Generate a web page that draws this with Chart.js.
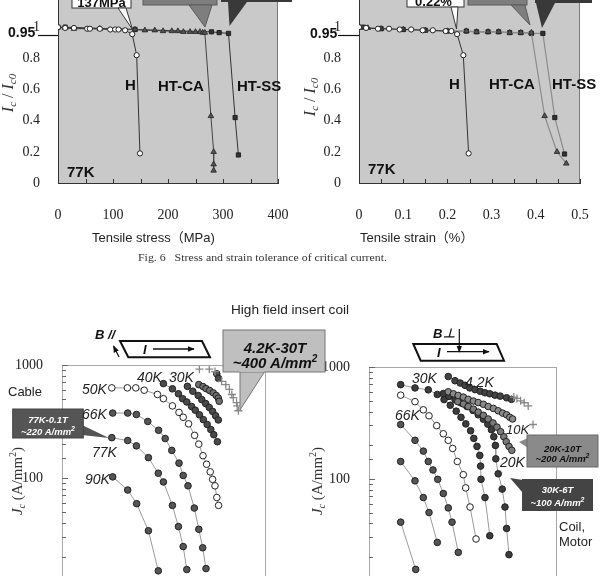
<!DOCTYPE html>
<html>
<head>
<meta charset="utf-8">
<script src="https://cdn.jsdelivr.net/npm/chart.js@4.4.1/dist/chart.umd.min.js"></script>
<style>
  html, body { margin: 0; padding: 0; background: #fff; }
  #page { position: relative; width: 600px; height: 576px; overflow: hidden; background: #fff; }
  canvas { position: absolute; }
  #stress { left: 0; top: -9px; }
  #strain { left: 300px; top: -9px; }
  #cable { left: 0; top: 340px; }
  #coil { left: 300px; top: 340px; }
  svg { position: absolute; left: 0; top: 0; }
  .sans { font-family: "Liberation Sans", Arial, "Noto Sans CJK JP", sans-serif; }
  .serif { font-family: "Liberation Serif", "Times New Roman", serif; }
</style>
</head>
<body>
<div id="page">
  <canvas id="stress" width="300" height="232"></canvas>
  <canvas id="strain" width="300" height="232"></canvas>
  <canvas id="cable" width="300" height="256"></canvas>
  <canvas id="coil" width="300" height="256"></canvas>

  <svg width="600" height="576" xmlns="http://www.w3.org/2000/svg">
    <defs>
      <marker id="ah" viewBox="0 0 10 10" refX="9" refY="5" markerUnits="userSpaceOnUse"
              markerWidth="7" markerHeight="7" orient="auto">
        <path d="M0,1 L10,5 L0,9 z" fill="#111"/>
      </marker>
    </defs>

    <!-- callouts above the stress / strain plots (cut off by the page top) -->
    <rect x="72" y="-20" width="59" height="28" fill="#fff" stroke="#333"/>
    <polygon points="118,8 132.5,29.5 126,8" fill="#fff" stroke="#333"/>
    <text class="sans" x="101.5" y="6.5" font-size="13" font-weight="bold" text-anchor="middle" fill="#111">137MPa</text>
    <rect x="143" y="-20" width="74" height="25" fill="#7e7e7e" stroke="#5a5a5a"/>
    <polygon points="189,5 212,5 205,27" fill="#7e7e7e" stroke="#5a5a5a"/>
    <rect x="221" y="-20" width="71" height="22" fill="#393939"/>
    <polygon points="228,2 247,2 229.5,26" fill="#393939"/>

    <rect x="407" y="-20" width="57" height="27" fill="#fff" stroke="#333"/>
    <polygon points="451,7 456.5,29 458,7" fill="#fff" stroke="#333"/>
    <text class="sans" x="433.5" y="5.5" font-size="13" font-weight="bold" text-anchor="middle" fill="#111">0.22%</text>
    <rect x="468" y="-20" width="59" height="25" fill="#7e7e7e" stroke="#5a5a5a"/>
    <polygon points="511,5 525,5 530,25" fill="#7e7e7e" stroke="#5a5a5a"/>
    <rect x="535" y="-20" width="57" height="23" fill="#393939"/>
    <polygon points="536,3 555,3 542,28" fill="#393939"/>

    <g class="sans" font-weight="bold" fill="#111">
      <text x="8" y="37" font-size="14">0.95</text>
      <text x="310" y="37.5" font-size="14">0.95</text>
      <text x="125" y="89.5" font-size="15">H</text>
      <text x="158" y="91" font-size="15">HT-CA</text>
      <text x="237" y="91" font-size="15">HT-SS</text>
      <text x="67" y="177" font-size="15">77K</text>
      <text x="449" y="88.5" font-size="15">H</text>
      <text x="489" y="88.5" font-size="15">HT-CA</text>
      <text x="552" y="88.5" font-size="15">HT-SS</text>
      <text x="368" y="173.5" font-size="15">77K</text>
    </g>

    <g class="serif" font-size="16" fill="#333" text-anchor="middle">
      <text transform="translate(13,93) rotate(-90)"><tspan font-style="italic">I</tspan><tspan font-size="11" font-style="italic" dy="3">c</tspan><tspan dy="-3"> / </tspan><tspan font-style="italic">I</tspan><tspan font-size="11" font-style="italic" dy="3">c0</tspan></text>
      <text transform="translate(315,97) rotate(-90)"><tspan font-style="italic">I</tspan><tspan font-size="11" font-style="italic" dy="3">c</tspan><tspan dy="-3"> / </tspan><tspan font-style="italic">I</tspan><tspan font-size="11" font-style="italic" dy="3">c0</tspan></text>
    </g>

    <g class="sans" font-size="13" fill="#222">
      <text x="92" y="242">Tensile stress（MPa)</text>
      <text x="360" y="242">Tensile strain（%）</text>
      <text x="231" y="313.5" textLength="118" lengthAdjust="spacingAndGlyphs">High field insert coil</text>
    </g>
    <text class="serif" x="138" y="261" font-size="11" fill="#333" textLength="249" lengthAdjust="spacingAndGlyphs" xml:space="preserve">Fig. 6   Stress and strain tolerance of critical current.</text>

    <!-- B parallel sketch -->
    <text class="sans" x="95" y="339" font-size="13" font-weight="bold" font-style="italic" fill="#111">B //</text>
    <line x1="119" y1="357" x2="113.5" y2="346" stroke="#111" stroke-width="1.2" marker-end="url(#ah)"/>
    <polygon points="120,341 202,341 210,357.3 128.3,357.3" fill="#fff" stroke="#111" stroke-width="2"/>
    <text class="sans" x="143" y="354" font-size="13" font-weight="bold" font-style="italic" fill="#111">I</text>
    <line x1="153" y1="349" x2="194" y2="349" stroke="#111" stroke-width="1.3" marker-end="url(#ah)"/>

    <!-- B perpendicular sketch -->
    <text class="sans" x="433" y="338" font-size="13" font-weight="bold" font-style="italic" fill="#111">B⊥</text>
    <polygon points="413.3,344 496.7,344 504,360.7 420.7,360.7" fill="#fff" stroke="#111" stroke-width="2"/>
    <line x1="459.3" y1="329" x2="459.3" y2="352" stroke="#111" stroke-width="1.2" marker-end="url(#ah)"/>
    <text class="sans" x="437" y="357" font-size="13" font-weight="bold" font-style="italic" fill="#111">I</text>
    <line x1="447" y1="351.7" x2="489" y2="351.7" stroke="#111" stroke-width="1.3" marker-end="url(#ah)"/>

    <!-- callouts of the field plots -->
    <polygon points="240,371 265,371 240,410" fill="#bfbfbf" stroke="#777"/>
    <rect x="223" y="330" width="102" height="42" fill="#bfbfbf" stroke="#777"/>
    <rect x="239.5" y="369" width="25" height="3" fill="#bfbfbf"/>
    <g class="sans" font-size="15" font-weight="bold" font-style="italic" fill="#111" text-anchor="middle">
      <text x="275" y="353">4.2K-30T</text>
      <text x="275" y="368">~400 A/mm<tspan font-size="10" dy="-6">2</tspan></text>
    </g>

    <polygon points="82,425 82,435 109,438" fill="#555"/>
    <rect x="12.7" y="409" width="70.6" height="29" fill="#555" stroke="#444"/>
    <g class="sans" font-size="9.5" font-weight="bold" font-style="italic" fill="#fff" text-anchor="middle">
      <text x="48" y="422.5">77K-0.1T</text>
      <text x="48" y="435">~220 A/mm<tspan font-size="7" dy="-4">2</tspan></text>
    </g>

    <polygon points="528,438 528,448 519,442" fill="#8a8a8a"/>
    <rect x="527" y="435" width="71" height="32" fill="#8a8a8a" stroke="#6a6a6a"/>
    <g class="sans" font-size="9.5" font-weight="bold" font-style="italic" fill="#111" text-anchor="middle">
      <text x="562.5" y="451.5">20K-10T</text>
      <text x="562.5" y="462">~200 A/mm<tspan font-size="7" dy="-4">2</tspan></text>
    </g>

    <polygon points="510,478 523,480 523,493" fill="#444"/>
    <rect x="522" y="479" width="71" height="32" fill="#444"/>
    <g class="sans" font-size="9.5" font-weight="bold" font-style="italic" fill="#fff" text-anchor="middle">
      <text x="557.5" y="492.5">30K-6T</text>
      <text x="557.5" y="506">~100 A/mm<tspan font-size="7" dy="-4">2</tspan></text>
    </g>

    <g class="sans" font-size="13" fill="#222">
      <text x="8" y="395.5">Cable</text>
      <text x="559" y="530.5">Coil,</text>
      <text x="559" y="545.5">Motor</text>
    </g>

    <g class="sans" font-size="14" font-style="italic" fill="#222">
      <text x="82" y="394">50K</text>
      <text x="137" y="382">40K</text>
      <text x="169" y="382">30K</text>
      <text x="82" y="419">66K</text>
      <text x="92" y="457">77K</text>
      <text x="85" y="484">90K</text>
      <text x="412" y="383">30K</text>
      <text x="465" y="387">4.2K</text>
      <text x="395" y="420">66K</text>
      <text x="506" y="434" font-size="13">10K</text>
      <text x="500" y="467">20K</text>
    </g>

    <g class="serif" font-size="15" fill="#333" text-anchor="middle">
      <text transform="translate(22,481) rotate(-90)"><tspan font-style="italic">J</tspan><tspan font-size="10" font-style="italic" dy="3">c</tspan><tspan dy="-3"> (A/mm</tspan><tspan font-size="10" dy="-6">2</tspan><tspan dy="6">)</tspan></text>
      <text transform="translate(322,481) rotate(-90)"><tspan font-style="italic">J</tspan><tspan font-size="10" font-style="italic" dy="3">c</tspan><tspan dy="-3"> (A/mm</tspan><tspan font-size="10" dy="-6">2</tspan><tspan dy="6">)</tspan></text>
    </g>
  </svg>
</div>

<script>
// Fig. 6 - Ic/Ic0 against tensile stress (MPa), 77K
const stressH = [0, 13, 29, 53, 58, 76, 95, 104, 110, 122, 135, 143, 149];
const icStressH = [1.0, 0.995, 0.995, 0.99, 0.99, 0.99, 0.985, 0.985, 0.985, 0.98, 0.955, 0.82, 0.19];
const stressCA = [0, 13, 29, 76, 140, 158, 176, 191, 207, 218, 228, 240, 250, 258, 263, 267, 278, 283, 283, 283];
const icStressCA = [1.0, 0.995, 0.99, 0.99, 0.985, 0.98, 0.98, 0.975, 0.975, 0.975, 0.97, 0.97, 0.97, 0.97, 0.965, 0.965, 0.43, 0.2, 0.12, 0.08];
const stressSS = [0, 13, 140, 279, 293, 310, 322, 328];
const icStressSS = [1.0, 1.0, 0.985, 0.97, 0.965, 0.96, 0.42, 0.18];

// Ic/Ic0 against tensile strain (%), 77K
const strainH = [0, 0.016, 0.043, 0.068, 0.092, 0.118, 0.144, 0.167, 0.196, 0.209, 0.222, 0.236, 0.248];
const icStrainH = [1.0, 0.995, 0.99, 0.99, 0.985, 0.985, 0.98, 0.98, 0.975, 0.975, 0.955, 0.82, 0.19];
const strainCA = [0, 0.02, 0.05, 0.1, 0.15, 0.2, 0.243, 0.266, 0.292, 0.316, 0.341, 0.366, 0.39, 0.42, 0.448, 0.469];
const icStrainCA = [1.0, 0.995, 0.99, 0.985, 0.98, 0.975, 0.975, 0.97, 0.97, 0.97, 0.965, 0.965, 0.965, 0.43, 0.2, 0.125];
const strainSS = [0, 0.01, 0.05, 0.1, 0.15, 0.2, 0.243, 0.266, 0.292, 0.316, 0.341, 0.366, 0.39, 0.416, 0.443, 0.465];
const icStrainSS = [1.0, 1.0, 0.99, 0.985, 0.98, 0.975, 0.975, 0.97, 0.97, 0.97, 0.965, 0.965, 0.96, 0.96, 0.42, 0.186];

// Je (A/mm2) against field B (T), field parallel to tape (cable)
const bPar50 = [8.3, 10.9, 12.3, 13.7, 15.9, 16.9, 18.4, 19.5, 20.2, 21.1, 22.1, 22.8, 23.5, 24.1, 24.7, 25.1, 25.5, 25.8, 26.1];
const jePar50 = [627, 627, 627, 598, 548, 503, 434, 380, 344, 301, 238, 199, 157, 132, 113, 97, 85, 67, 57];
const bPar66 = [8.45, 10.95, 12.4, 14.3, 16.1, 17.2, 18.3, 19.5, 20.2, 21.0, 22.05, 22.8, 23.45, 24.0];
const jePar66 = [375, 375, 364, 316, 264, 223, 175, 135, 105, 85, 54, 35, 24, 15.7];
const bPar77 = [8.3, 10.95, 12.4, 14.4, 16.05, 16.9, 18.4, 19.4, 20.2, 20.8];
const jePar77 = [227, 214, 192, 151, 110, 92, 57, 37, 24.6, 15.4];
const bPar90 = [8.45, 10.95, 12.45, 14.4, 16.05];
const jePar90 = [102, 78, 59, 34, 15];
const bPar40 = [16.9, 18.4, 19.4, 20.1, 20.8, 21.6, 22.2, 22.9, 23.55, 24.2, 24.8, 25.3, 25.9];
const jePar40 = [684, 615, 556, 503, 470, 429, 398, 362, 328, 297, 268, 241, 209];
const bPar30 = [20.9, 21.8, 22.7, 23.3, 23.95, 24.55, 25.1, 25.6, 26.05];
const jePar30 = [647, 586, 537, 493, 455, 420, 388, 355, 326];
const bPar20 = [22.8, 23.5, 24.0, 24.6, 25.2, 25.7, 26.05, 26.2];
const jePar20 = [670, 644, 618, 594, 567, 537, 509, 477];
const bPar10 = [25.8, 26.1];
const jePar10 = [835, 760];
const bPar4 = [22.9, 24.55, 25.5, 26.6, 27.3, 27.9, 28.3, 28.55, 29.1, 29.2, 29.4];
const jePar4 = [918, 918, 875, 716, 670, 607, 548, 513, 465, 434, 393];

// Je (A/mm2) against field B (T), field perpendicular to tape (coil, motor)
const bPer4 = [9.91, 10.75, 11.4, 12.0, 12.6, 13.25, 13.9, 14.5, 15.1, 15.75, 16.4, 17.2, 17.8];
const jePer4 = [822, 754, 719, 686, 650, 628, 607, 588, 576, 560, 549, 531, 514];
const bPer4x = [18.1, 18.5, 18.95, 19.4, 19.9, 20.5];
const jePer4x = [538, 524, 498, 479, 449, 306];
const bPer10 = [9.91, 10.55, 11.15, 11.8, 12.4, 13.05, 13.65, 14.3, 14.9, 15.55, 16.15, 16.7, 17.2, 17.6, 17.95];
const jePer10 = [600, 576, 557, 538, 514, 496, 481, 464, 443, 426, 406, 387, 374, 355, 343];
const bPer20g = [11.1, 11.8, 12.4, 13.05, 13.65, 14.3, 14.9, 15.5, 16.0, 16.45, 16.85, 17.15, 17.5, 17.85];
const jePer20g = [490, 467, 443, 420, 395, 370, 343, 316, 290, 264, 238, 215, 195, 180];
const bPer20 = [9.29, 10.0, 10.75, 11.5, 12.25, 13.0, 13.65, 14.3, 14.85, 15.3, 15.6, 15.8, 15.85, 16.15, 16.65, 17.0, 17.2, 17.5];
const jePer20 = [579, 546, 511, 477, 443, 409, 374, 341, 308, 275, 238, 199, 151, 111, 81, 56, 36, 21];
const bPer30 = [3.96, 5.75, 7.41, 8.54, 9.38, 10.16, 10.9, 11.5, 12.1, 12.7, 13.1, 13.5, 13.85, 13.95, 14.0, 14.5, 15.1];
const jePer30 = [695, 650, 625, 568, 511, 455, 403, 355, 310, 269, 230, 195, 162, 130, 99, 68, 31];
const bPer50 = [3.96, 5.75, 6.79, 7.5, 8.46, 9.29, 9.91, 10.46, 11.04, 11.79, 12.09, 12.63, 13.38];
const jePer50 = [560, 490, 414, 366, 299, 253, 221, 187, 143, 109, 83, 56, 29];
const bPer66 = [3.96, 5.75, 6.79, 7.41, 8.0, 8.59, 9.29, 9.91, 10.38, 11.16];
const jePer66 = [306, 221, 177, 143, 120, 99, 74, 55, 41, 22];
const bPer77 = [3.96, 5.75, 6.79, 7.5, 8.54];
const jePer77 = [143, 96, 68, 50, 27];
const bPer90 = [3.96, 5.84];
const jePer90 = [41, 15.5];

Chart.defaults.font.family = '"Liberation Serif", "Times New Roman", serif';
Chart.defaults.color = '#222';

function series(xs, ys, style) {
    return Object.assign({
        data: xs.map((x, i) => ({ x: x, y: ys[i] })),
        showLine: true,
        tension: 0
    }, style);
}

// marker looks
const openDot = { pointStyle: 'circle', pointRadius: 2.6, pointBackgroundColor: '#fff', pointBorderColor: '#222', pointBorderWidth: 1 };
const triDot = { pointStyle: 'triangle', pointRadius: 3.2, pointBackgroundColor: '#555', pointBorderColor: '#222', pointBorderWidth: 0.8 };
const sqDot = { pointStyle: 'rect', pointRadius: 3, pointBackgroundColor: '#333', pointBorderColor: '#111', pointBorderWidth: 0.8 };
const ball = (fill) => ({ pointStyle: 'circle', pointRadius: 3.3, pointBackgroundColor: fill, pointBorderColor: '#222', pointBorderWidth: 1, borderColor: '#9a9a9a', borderWidth: 1 });
const crossDot = { pointStyle: 'cross', pointRadius: 4, pointBorderColor: '#888', pointBorderWidth: 1.3, borderColor: 'rgba(0,0,0,0)', showLine: false };

// background, frame, inner ticks and the 0.95 guide line
const frame = {
    id: 'frame',
    beforeDraw(chart, args, o) {
        if (!o.fill) return;
        const { ctx, chartArea: a } = chart;
        ctx.save();
        ctx.fillStyle = o.fill;
        ctx.fillRect(a.left, a.top, a.right - a.left, a.bottom - a.top);
        ctx.restore();
    },
    afterDraw(chart, args, o) {
        const { ctx, chartArea: a, scales } = chart;
        ctx.save();
        ctx.lineWidth = 1;
        if (o.box) {
            ctx.strokeStyle = o.box;
            ctx.strokeRect(Math.round(a.left) + 0.5, Math.round(a.top) + 0.5, Math.round(a.right - a.left) - 1, Math.round(a.bottom - a.top) - 1);
        }
        if (o.rightEdge) {
            ctx.strokeStyle = o.rightEdge;
            ctx.beginPath();
            ctx.moveTo(Math.round(a.right) - 0.5, a.top);
            ctx.lineTo(Math.round(a.right) - 0.5, a.bottom);
            ctx.stroke();
        }
        if (o.minorX) {
            ctx.strokeStyle = '#333';
            for (let v = scales.x.min; v <= scales.x.max + 1e-9; v += o.minorX) {
                const px = Math.round(scales.x.getPixelForValue(v)) + 0.5;
                ctx.beginPath();
                ctx.moveTo(px, a.bottom);
                ctx.lineTo(px, a.bottom - 4);
                ctx.stroke();
            }
        }
        if (o.logTicks) {
            ctx.strokeStyle = '#666';
            scales.y.ticks.forEach(t => {
                const py = Math.round(scales.y.getPixelForValue(t.value)) + 0.5;
                const major = t.label !== '';
                ctx.beginPath();
                ctx.moveTo(a.left, py);
                ctx.lineTo(a.left + (major ? 6 : 4), py);
                ctx.stroke();
            });
        }
        if (o.refY !== undefined) {
            const py = Math.round(scales.y.getPixelForValue(o.refY)) + 0.5;
            ctx.strokeStyle = '#111';
            ctx.lineWidth = 1.2;
            ctx.beginPath();
            ctx.moveTo(o.refFrom, py);
            ctx.lineTo(a.left, py);
            ctx.stroke();
        }
        ctx.restore();
    }
};

const tickFont = { family: '"Liberation Serif", "Times New Roman", serif', size: 14 };
const oneDecimal = (v) => String(Math.round(v * 10) / 10);

function tolChart(id, datasets, xMax, xStep, yWidth, padRight) {
    return new Chart(document.getElementById(id), {
        type: 'scatter',
        data: { datasets: datasets },
        options: {
            responsive: false,
            animation: false,
            layout: { padding: { left: 0, right: padRight, top: 0, bottom: 0 } },
            plugins: {
                legend: { display: false },
                tooltip: { enabled: false },
                frame: { fill: '#c9c9c9', rightEdge: '#7a7a7a', minorX: xStep / 2, refY: 0.95, refFrom: 38 }
            },
            scales: {
                x: {
                    type: 'linear', min: 0, max: xMax,
                    grid: { display: false },
                    border: { color: '#333', width: 1 },
                    ticks: { stepSize: xStep, padding: 16, font: tickFont, color: '#222', callback: oneDecimal },
                    afterFit: (s) => { s.height = 40; s.paddingLeft = 0; s.paddingRight = 0; }
                },
                y: {
                    min: 0, max: 1.2,
                    grid: { display: false },
                    border: { color: '#333', width: 1 },
                    ticks: { stepSize: 0.2, padding: 10, font: tickFont, color: '#222',
                             callback: (v) => v > 1.001 ? '' : oneDecimal(v) },
                    afterFit: (s) => { s.width = yWidth; s.paddingTop = 0; s.paddingBottom = 0; }
                }
            }
        },
        plugins: [frame]
    });
}

function fieldChart(id, datasets, xMax, yWidth, padTop, padRight) {
    return new Chart(document.getElementById(id), {
        type: 'scatter',
        data: { datasets: datasets },
        options: {
            responsive: false,
            animation: false,
            layout: { padding: { left: 0, right: padRight, top: padTop, bottom: 1 } },
            plugins: {
                legend: { display: false },
                tooltip: { enabled: false },
                frame: { box: '#a8a8a8', logTicks: true }
            },
            scales: {
                x: {
                    type: 'linear', min: 0, max: xMax, display: false,
                    afterFit: (s) => { s.height = 0; s.paddingLeft = 0; s.paddingRight = 0; }
                },
                y: {
                    type: 'logarithmic', min: 10, max: 1000,
                    grid: { display: false },
                    border: { color: '#777', width: 1 },
                    ticks: {
                        autoSkip: false, padding: 11, font: tickFont, color: '#222',
                        callback: (v) => Math.abs(Math.log10(v) - Math.round(Math.log10(v))) < 1e-6 ? String(Math.round(v)) : ''
                    },
                    afterFit: (s) => { s.width = yWidth; s.paddingTop = 0; s.paddingBottom = 0; }
                }
            }
        },
        plugins: [frame]
    });
}

tolChart('stress', [
    series(stressH, icStressH, Object.assign({ borderColor: '#333', borderWidth: 1 }, openDot)),
    series(stressCA, icStressCA, Object.assign({ borderColor: '#444', borderWidth: 1 }, triDot)),
    series(stressSS, icStressSS, Object.assign({ borderColor: '#333', borderWidth: 1 }, sqDot))
], 400, 100, 58, 22);

tolChart('strain', [
    series(strainH, icStrainH, Object.assign({ borderColor: '#333', borderWidth: 1 }, openDot)),
    series(strainCA, icStrainCA, Object.assign({ borderColor: '#8c8c8c', borderWidth: 1.2 }, triDot)),
    series(strainSS, icStrainSS, Object.assign({ borderColor: '#8c8c8c', borderWidth: 1.2 }, sqDot))
], 0.5, 0.1, 59, 20);

fieldChart('cable', [
    series(bPar4, jePar4, crossDot),
    series(bPar10, jePar10, ball('#4a4a4a')),
    series(bPar20, jePar20, ball('#6e6e6e')),
    series(bPar30, jePar30, ball('#4a4a4a')),
    series(bPar40, jePar40, ball('#4a4a4a')),
    series(bPar50, jePar50, ball('#fff')),
    series(bPar66, jePar66, ball('#555')),
    series(bPar77, jePar77, ball('#555')),
    series(bPar90, jePar90, ball('#555'))
], 34, 62, 25, 34);

fieldChart('coil', [
    series(bPer4x, jePer4x, crossDot),
    series(bPer4, jePer4, ball('#444')),
    series(bPer10, jePer10, ball('#8a8a8a')),
    series(bPer20g, jePer20g, ball('#7a7a7a')),
    series(bPer20, jePer20, ball('#3c3c3c')),
    series(bPer30, jePer30, ball('#3c3c3c')),
    series(bPer50, jePer50, ball('#fff')),
    series(bPer66, jePer66, ball('#555')),
    series(bPer77, jePer77, ball('#555')),
    series(bPer90, jePer90, ball('#555'))
], 23.5, 69, 27, 43);
</script>
</body>
</html>
